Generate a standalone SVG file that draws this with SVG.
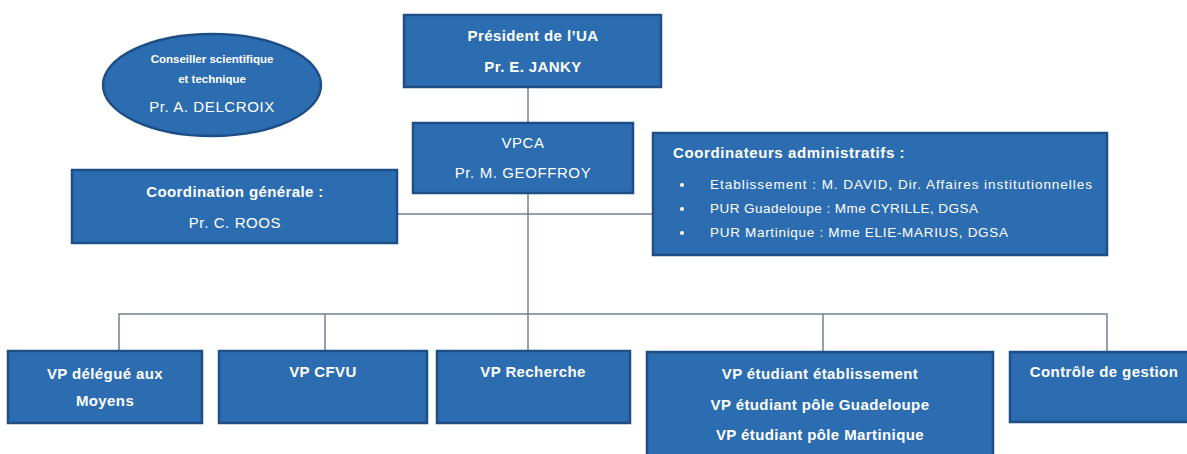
<svg xmlns="http://www.w3.org/2000/svg" width="1187" height="454" viewBox="0 0 1187 454">
<style>
.box{fill:#2c6db2;stroke:#1d4f86;stroke-width:2.5}
.t{fill:#ffffff;font-family:"Liberation Sans",Arial,sans-serif;font-weight:bold;font-size:15px;letter-spacing:0.4px;text-anchor:middle}
.n{font-weight:normal;font-size:15px;letter-spacing:0.6px}
.s{font-size:11.5px;letter-spacing:0}
.r{fill:#ffffff;font-family:"Liberation Sans",Arial,sans-serif;font-size:13.5px}
.c{fill:none;stroke:#6f8299;stroke-width:1.5}
</style>
<rect width="1187" height="454" fill="#ffffff"/>
<g id="connectors">
<line class="c" x1="528" y1="87" x2="528" y2="123"/>
<line class="c" x1="528" y1="193" x2="528" y2="351"/>
<line class="c" x1="397" y1="214" x2="653" y2="214"/>
<polyline class="c" points="119,351 119,314 1107,314 1107,352"/>
<line class="c" x1="325" y1="314" x2="325" y2="351"/>
<line class="c" x1="823" y1="314" x2="823" y2="352"/>
</g>
<g id="conseiller">
<ellipse class="box" cx="212" cy="85" rx="109" ry="51"/>
<text class="t s" x="212" y="63">Conseiller scientifique</text>
<text class="t s" x="212" y="83">et technique</text>
<text class="t n" x="212" y="112">Pr. A. DELCROIX</text>
</g>
<g id="president">
<rect class="box" x="404" y="15" width="257" height="72"/>
<text class="t" x="533" y="41">Président de l’UA</text>
<text class="t" x="533" y="72">Pr. E. JANKY</text>
</g>
<g id="vpca">
<rect class="box" x="413" y="123" width="220" height="70"/>
<text class="t n" x="523" y="148">VPCA</text>
<text class="t n" x="523" y="178">Pr. M. GEOFFROY</text>
</g>
<g id="coordination">
<rect class="box" x="72" y="170" width="325" height="73"/>
<text class="t" x="235" y="197">Coordination générale :</text>
<text class="t n" x="235" y="228">Pr. C. ROOS</text>
</g>
<g id="coordinateurs">
<rect class="box" x="653" y="133" width="454" height="122"/>
<text class="t" x="673" y="158" style="text-anchor:start" textLength="232" lengthAdjust="spacing">Coordinateurs administratifs :</text>
<circle cx="682" cy="185" r="2" fill="#ffffff"/>
<circle cx="682" cy="209" r="2" fill="#ffffff"/>
<circle cx="682" cy="233" r="2" fill="#ffffff"/>
<text class="r" x="710" y="189" textLength="382" lengthAdjust="spacing">Etablissement : M. DAVID, Dir. Affaires institutionnelles</text>
<text class="r" x="710" y="213" textLength="268" lengthAdjust="spacing">PUR Guadeloupe : Mme CYRILLE, DGSA</text>
<text class="r" x="710" y="237" textLength="298" lengthAdjust="spacing">PUR Martinique : Mme ELIE-MARIUS, DGSA</text>
</g>
<g id="vp-moyens">
<rect class="box" x="8" y="351" width="194" height="72"/>
<text class="t" x="105" y="379">VP délégué aux</text>
<text class="t" x="105" y="406">Moyens</text>
</g>
<g id="vp-cfvu">
<rect class="box" x="219" y="351" width="208" height="72"/>
<text class="t" x="323" y="377">VP CFVU</text>
</g>
<g id="vp-recherche">
<rect class="box" x="437" y="351" width="193" height="72"/>
<text class="t" x="533" y="377">VP Recherche</text>
</g>
<g id="vp-etudiant">
<rect class="box" x="647" y="352" width="346" height="110"/>
<text class="t" x="820" y="379">VP étudiant établissement</text>
<text class="t" x="820" y="410">VP étudiant pôle Guadeloupe</text>
<text class="t" x="820" y="440">VP étudiant pôle Martinique</text>
</g>
<g id="controle">
<rect class="box" x="1010" y="352" width="190" height="70"/>
<text class="t" x="1104" y="377">Contrôle de gestion</text>
</g>
</svg>
